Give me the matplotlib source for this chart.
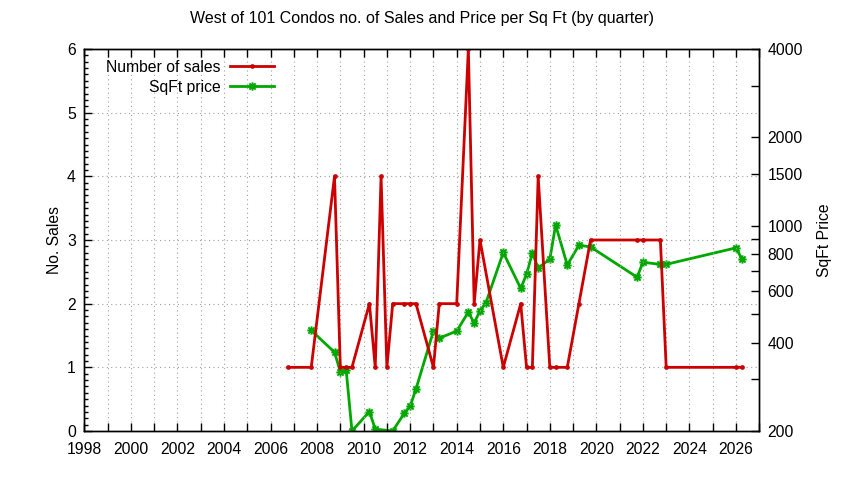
import matplotlib
matplotlib.use("Agg")
import matplotlib.pyplot as plt
from matplotlib.lines import Line2D
from matplotlib.path import Path
from matplotlib.ticker import FixedLocator, FixedFormatter, MultipleLocator, NullLocator

plt.rcParams['font.family'] = ['Liberation Sans', 'DejaVu Sans']

# Number of sales per quarter (decimal year)
sales_x = [2006.75, 2007.75, 2008.75, 2009.0, 2009.25, 2009.5, 2010.25, 2010.5, 2010.75,
           2011.0, 2011.25, 2011.75, 2012.0, 2012.25, 2013.0, 2013.25, 2014.0, 2014.5,
           2014.75, 2015.0, 2016.0, 2016.75, 2017.0, 2017.25, 2017.5, 2018.0, 2018.25,
           2018.75, 2019.25, 2019.75, 2021.75, 2022.0, 2022.75, 2023.0, 2026.0, 2026.25]
sales_y = [1, 1, 4, 1, 1, 1, 2, 1, 4,
           1, 2, 2, 2, 2, 1, 2, 2, 6,
           2, 3, 1, 2, 1, 1, 4, 1, 1,
           1, 2, 3, 3, 3, 3, 1, 1, 1]

# Price per sq ft per quarter
price_x = [2007.75, 2008.75, 2009.0, 2009.25, 2009.5, 2010.25, 2010.5, 2011.25, 2011.75,
           2012.0, 2012.25, 2013.0, 2013.25, 2014.0, 2014.5, 2014.75, 2015.0, 2015.25,
           2016.0, 2016.75, 2017.0, 2017.25, 2017.5, 2018.0, 2018.25, 2018.75, 2019.25,
           2019.75, 2021.75, 2022.0, 2022.75, 2023.0, 2026.0, 2026.25]
price_y = [440, 371, 318, 323, 200, 233, 203, 200, 230,
           243, 278, 438, 414, 438, 508, 466, 514, 545,
           811, 612, 684, 808, 718, 770, 1006, 735, 859,
           847, 668, 751, 739, 739, 841, 771]

x_major = list(range(1998, 2027, 2))
x_minor = list(range(1998, 2028, 1))
price_ticks = [200, 300, 400, 500, 600, 700, 800, 900, 1000, 1500, 2000, 3000, 4000]
price_labels = ['200', '', '400', '', '600', '', '800', '', '1000', '1500', '2000', '', '4000']

RED = '#cc0000'
GREEN = '#00a800'
GRIDC = '#a0a0a0'
FS = 11.3

# gnuplot-like star point (+ and x overlaid)
STAR = Path([(-1, 0), (1, 0), (0, -1), (0, 1), (-0.75, -0.75), (0.75, 0.75),
             (-0.75, 0.75), (0.75, -0.75)],
            [Path.MOVETO, Path.LINETO] * 4)

fig = plt.figure(figsize=(8.44, 4.8), dpi=100)
ax = fig.add_axes([84.3 / 844, 49 / 480, 675 / 844, 382 / 480])
ax2 = ax.twinx()

ax.set_xlim(1998, 2027)
ax.set_ylim(0, 6)
ax2.set_yscale('log')
ax2.set_ylim(200, 4000)

ax.plot(sales_x, sales_y, color=RED, lw=2, marker='o', ms=3.4, mew=0)
ax2.plot(price_x, price_y, color=GREEN, lw=2, marker=STAR, ms=6, mew=1.4,
         mec=GREEN, mfc='none')

# ticks
ax.xaxis.set_major_locator(FixedLocator(x_major))
ax.xaxis.set_minor_locator(FixedLocator(x_minor))
ax.yaxis.set_major_locator(MultipleLocator(1))
ax.yaxis.set_minor_locator(MultipleLocator(0.1))
ax.tick_params(axis='x', which='both', direction='in', length=6, width=1, top=True,
               labelsize=FS, pad=8, colors='black')
ax.tick_params(axis='y', which='major', direction='in', length=6, width=1, labelsize=FS, pad=6)
ax.tick_params(axis='y', which='minor', direction='in', length=3, width=1)
ax.tick_params(axis='y', which='both', right=False)

ax2.yaxis.set_major_locator(FixedLocator(price_ticks))
ax2.yaxis.set_major_formatter(FixedFormatter(price_labels))
ax2.yaxis.set_minor_locator(NullLocator())
ax2.tick_params(axis='y', which='major', direction='in', length=6, width=1, labelsize=FS, pad=6)

# grid
for xv in x_minor:
    if 1998 < xv < 2027:
        ax.axvline(xv, color=GRIDC, lw=0.8, ls=(0, (1, 3)), zorder=0)
for yv in [1, 2, 3, 4, 5]:
    ax.axhline(yv, color=GRIDC, lw=0.8, ls=(0, (1, 3)), zorder=0)

for s in list(ax.spines.values()) + list(ax2.spines.values()):
    s.set_linewidth(1)

ax.set_ylabel('No. Sales', fontsize=FS, labelpad=4)
ax2.set_ylabel('SqFt Price', fontsize=FS, labelpad=10)
fig.text(421.8 / 844, 1 - 18 / 480, 'West of 101 Condos no. of Sales and Price per Sq Ft (by quarter)',
         ha='center', va='center', fontsize=11.5)

h1 = Line2D([], [], color=RED, lw=2, marker='o', ms=3.4, mew=0)
h2 = Line2D([], [], color=GREEN, lw=2, marker=STAR, ms=6, mew=1.4, mec=GREEN, mfc='none')
ax.legend([h1, h2], ['Number of sales', 'SqFt price'], loc='upper right',
          bbox_to_anchor=(0.297, 1.0), frameon=False, markerfirst=False,
          fontsize=FS, handlelength=2.8, handletextpad=0.6, labelspacing=0.3,
          borderaxespad=0.3)
ax.set_zorder(ax2.get_zorder() + 1)
ax.patch.set_visible(False)

fig.savefig('out.png', dpi=100)
